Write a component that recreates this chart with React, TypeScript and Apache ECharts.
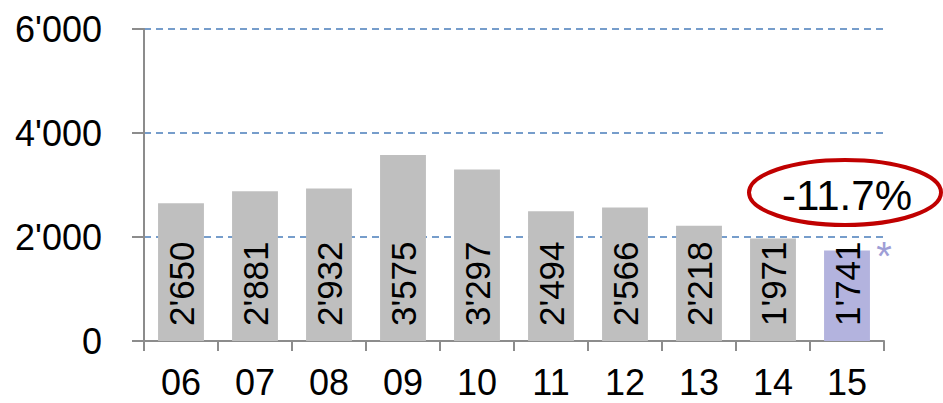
import React, { useEffect, useRef } from "react";
import * as echarts from "echarts";

const categories = ["06", "07", "08", "09", "10", "11", "12", "13", "14", "15"];
const values = [2650, 2881, 2932, 3575, 3297, 2494, 2566, 2218, 1971, 1741];
const highlightIndex = 9;
const changeLabel = "-11.7%";
const yTicks = { min: 0, max: 6000, interval: 2000 };

const fmt = (v: number) => {
  const s = String(Math.round(v));
  return s.replace(/\B(?=(\d{3})+(?!\d))/g, "'");
};

export default function App() {
  const ref = useRef<HTMLDivElement>(null);
  useEffect(() => {
    document.body.style.margin = "0";
    const chart = echarts.init(ref.current!, null, { renderer: "svg" });
    const font = "Liberation Sans, Arial, sans-serif";
    chart.setOption({
      animation: false,
      grid: { left: 144, right: 59, top: 29, bottom: 62, outerBoundsMode: "none", containLabel: false },
      xAxis: {
        type: "category",
        data: categories,
        axisLine: { lineStyle: { color: "#8c8c8c", width: 2 } },
        axisTick: { show: true, length: 10, lineStyle: { color: "#8c8c8c", width: 2 } },
        axisLabel: { color: "#000", fontSize: 36, fontFamily: font, margin: 23 },
      },
      yAxis: {
        type: "value",
        min: yTicks.min,
        max: yTicks.max,
        interval: yTicks.interval,
        axisLine: { show: true, lineStyle: { color: "#8c8c8c", width: 2 } },
        axisTick: { show: true, length: 12, lineStyle: { color: "#8c8c8c", width: 2 } },
        axisLabel: { color: "#000", fontSize: 36, fontFamily: font, margin: 42, formatter: (v: number) => fmt(v) },
        splitLine: { show: true, lineStyle: { color: "#4a7ebb", type: [7, 5], width: 1.5 } },
      },
      series: [
        {
          type: "bar",
          barWidth: "62%",
          data: values.map((v, i) => ({
            value: v,
            itemStyle: { color: i === highlightIndex ? "#b3b3de" : "#bfbfbf" },
          })),
          label: {
            show: true,
            position: "insideBottom",
            rotate: 90,
            align: "left",
            verticalAlign: "middle",
            distance: 15,
            color: "#000",
            fontSize: 35,
            fontFamily: font,
            formatter: (p: any) => fmt(p.value),
          },
        },
      ],
      graphic: [
        {
          type: "ellipse",
          shape: { cx: 845, cy: 192.5, rx: 96, ry: 32.5 },
          style: { fill: "#fff", stroke: "#c00000", lineWidth: 4 },
          z: 10,
        },
        {
          type: "text",
          x: 847,
          y: 195,
          style: {
            text: changeLabel,
            fontSize: 42,
            fontFamily: font,
            fill: "#000",
            align: "center",
            verticalAlign: "middle",
          },
          z: 11,
        },
        {
          type: "text",
          x: 884,
          y: 256,
          style: {
            text: "*",
            fontSize: 40,
            fontFamily: font,
            fill: "#9e9ed6",
            align: "center",
            verticalAlign: "middle",
          },
          z: 11,
        },
      ],
    });
    return () => chart.dispose();
  }, []);
  return <div ref={ref} style={{ width: 943, height: 403 }} />;
}
